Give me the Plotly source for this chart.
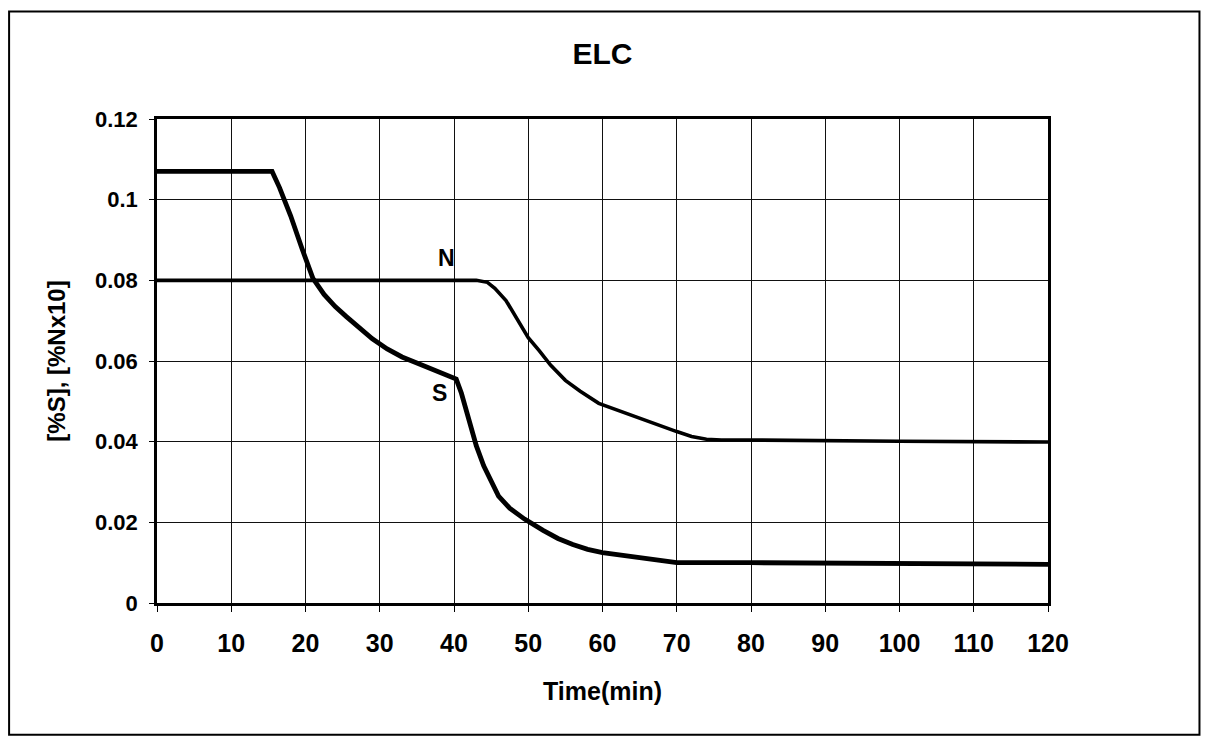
import plotly.graph_objects as go

# S curve (%S)
s_time = [0, 15.5, 16.5, 18, 19.5, 21, 22.5, 24, 25.5, 27, 29, 31, 33, 35, 37, 39, 40.3, 41, 42, 43, 44, 45, 46,
          47.5, 49.5, 52, 54, 56, 58, 60, 63, 66, 70, 80, 100, 120]
s_val = [0.107, 0.107, 0.103, 0.096, 0.088, 0.0805, 0.0765, 0.0735, 0.071, 0.0685, 0.0655, 0.063, 0.061, 0.0595,
         0.058, 0.0565, 0.0555, 0.052, 0.045, 0.039, 0.034, 0.030, 0.0265, 0.0235, 0.0208, 0.018, 0.016, 0.0145,
         0.0133, 0.0125, 0.0117, 0.0110, 0.0100, 0.0100, 0.0098, 0.0096]

# N curve (%N x10)
n_time = [0, 43, 44.5, 45.5, 47, 48.5, 50, 51.5, 53, 55, 57, 59.5, 62, 65, 68, 70, 72, 74, 76, 80, 100, 120]
n_val = [0.080, 0.080, 0.0795, 0.078, 0.075, 0.0705, 0.0658, 0.0625, 0.059, 0.0552, 0.0525, 0.0495, 0.0478,
         0.0458, 0.0437, 0.0425, 0.0413, 0.0406, 0.0404, 0.0404, 0.0401, 0.0399]

x_ticks = list(range(0, 121, 10))
y_ticks = [0, 0.02, 0.04, 0.06, 0.08, 0.1, 0.12]
y_tick_labels = ["0", "0.02", "0.04", "0.06", "0.08", "0.1", "0.12"]

FONT = "Liberation Sans, Arial, sans-serif"

fig = go.Figure()
fig.add_trace(go.Scatter(x=n_time, y=n_val, mode="lines",
                         line=dict(color="black", width=3.6), name="N"))
fig.add_trace(go.Scatter(x=s_time, y=s_val, mode="lines",
                         line=dict(color="black", width=4.8), name="S"))

fig.add_annotation(x=39, y=0.0855, text="<b>N</b>", showarrow=False,
                   font=dict(family=FONT, size=23, color="black"))
fig.add_annotation(x=38, y=0.052, text="<b>S</b>", showarrow=False,
                   font=dict(family=FONT, size=23, color="black"))

# outer frame
fig.add_shape(type="rect", xref="paper", yref="paper", x0=-0.166, x1=1.17, y0=-0.272, y1=1.222,
              line=dict(color="black", width=2), layer="below")

fig.update_layout(
    width=1212, height=737,
    margin=dict(l=157, r=164, t=119, b=134),
    paper_bgcolor="white", plot_bgcolor="white",
    showlegend=False,
    title=dict(text="<b>ELC</b>", x=0.5, xref="paper", y=1 - 53 / 737, yanchor="middle",
               font=dict(family=FONT, size=30, color="black")),
    font=dict(family=FONT, color="black"),
)
fig.update_xaxes(range=[0, 120], tickvals=x_ticks, ticktext=[f"<b>{v}</b>" for v in x_ticks],
                 showgrid=True, gridcolor="#111", gridwidth=1.4,
                 showline=True, linecolor="black", linewidth=2.5, mirror=True,
                 ticks="outside", ticklen=6, tickcolor="black", tickwidth=1,
                 ticklabelstandoff=10,
                 tickfont=dict(family=FONT, size=25, color="black"),
                 title=dict(text="<b>Time(min)</b>", font=dict(family=FONT, size=25, color="black"), standoff=27),
                 zeroline=False)
fig.update_yaxes(range=[0, 0.12], tickvals=y_ticks, ticktext=[f"<b>{t}</b>" for t in y_tick_labels],
                 showgrid=True, gridcolor="#111", gridwidth=1.4,
                 showline=True, linecolor="black", linewidth=2.5, mirror=True,
                 ticks="outside", ticklen=5, tickcolor="black", tickwidth=1,
                 ticklabelstandoff=7,
                 tickfont=dict(family=FONT, size=22, color="black"),
                 title=dict(text="<b>[%S], [%Nx10]</b>", font=dict(family=FONT, size=24, color="black"), standoff=23),
                 zeroline=False)

fig.write_html("out.html")
